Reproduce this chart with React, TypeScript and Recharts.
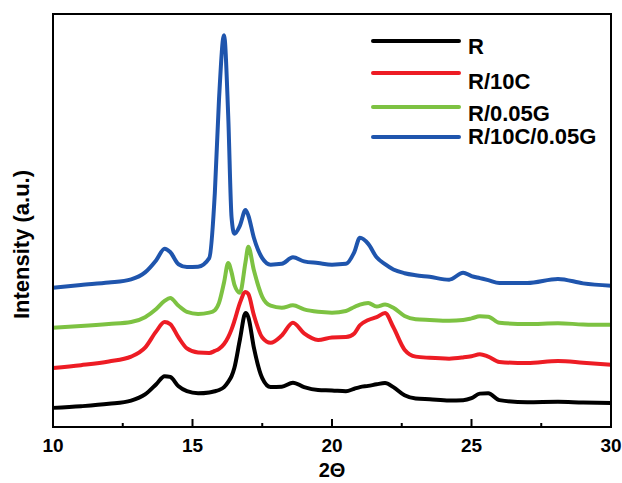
import { Legend, Line, LineChart, XAxis, YAxis } from 'recharts';

const twoTheta = [
  10, 11, 12, 12.8, 13.3, 13.7, 14.0, 14.2, 14.5, 14.8, 15.2, 15.6, 15.8, 15.95, 16.13, 16.28, 16.4,
  16.5, 16.7, 16.9, 17.0, 17.2, 17.5, 17.8, 18.2, 18.6, 19.0, 19.5, 20.0, 20.5, 20.8, 21.0, 21.3,
  21.6, 21.9, 22.2, 22.6, 23.0, 23.5, 24.2, 24.7, 25.0, 25.3, 25.6, 26.0, 27.0, 28.1, 29.0, 30.0,
];

const intensityR = [
  3.2, 3.6, 4.2, 5.0, 6.5, 9.0, 11.0, 10.8, 8.5, 7.3, 6.8, 7.0, 7.3, 7.6, 8.3, 9.6, 11.0,
  13.0, 20.0, 26.5, 25.5, 18.0, 10.5, 8.3, 8.4, 9.4, 8.3, 7.6, 7.5, 7.3, 7.9, 8.3, 8.6,
  9.0, 9.3, 8.3, 6.3, 5.5, 5.3, 5.0, 5.1, 5.6, 6.7, 6.8, 5.1, 4.6, 4.7, 4.5, 4.4,
];

const intensityR10C = [
  13.0, 13.7, 14.6, 15.8, 18.0, 22.0, 24.3, 23.8, 20.5, 17.8, 16.8, 16.7, 17.2, 17.7, 18.9, 20.6, 22.5,
  24.5, 29.0, 31.7, 31.2, 26.0, 20.5, 19.2, 21.0, 24.1, 21.5, 19.9, 20.5, 20.6, 21.5, 23.5, 24.8,
  25.5, 26.5, 23.0, 17.5, 15.8, 15.5, 15.3, 15.6, 15.9, 16.4, 15.8, 14.5, 14.2, 14.7, 14.3, 13.8,
];

const intensityR005G = [
  22.9, 23.3, 23.8, 24.3, 25.5, 27.5, 29.5, 30.2, 28.3, 26.8, 26.3, 26.6, 27.2, 29.0, 34.0, 38.8, 36.5,
  33.5, 31.5, 39.0, 42.8, 37.0, 30.5, 28.3, 27.8, 28.4, 27.4, 26.8, 26.6, 27.0, 28.0, 28.6, 29.0,
  28.1, 28.6, 27.8, 25.8, 25.0, 24.8, 24.6, 24.8, 25.2, 25.7, 25.6, 24.1, 23.8, 24.0, 23.7, 23.6,
];

const intensityR10C005G = [
  32.7, 33.4, 34.0, 34.8, 36.5, 39.5, 42.3, 41.5, 38.5, 37.8, 37.9, 40.0, 56.0, 79.0, 94.8, 75.0, 50.0,
  46.0, 48.0, 51.8, 50.5, 45.0, 40.0, 38.4, 38.6, 40.2, 39.2, 38.8, 38.4, 38.6, 41.5, 45.0, 43.5,
  40.2, 38.5, 37.2, 36.3, 35.8, 35.4, 34.7, 36.4, 35.6, 35.1, 34.6, 33.9, 33.9, 34.9, 33.8, 33.2,
];

const xTicks = [10, 12.5, 15, 17.5, 20, 22.5, 25, 27.5, 30];

const seriesNames = ['R', 'R/10C', 'R/0.05G', 'R/10C/0.05G'];
const seriesColors = ['#000000', '#ed1c24', '#7dc242', '#1f55ad'];

const FONT = '"Liberation Sans", Arial, Helvetica, sans-serif';

const data = twoTheta.map((x, i) => ({
  x,
  R: intensityR[i],
  'R/10C': intensityR10C[i],
  'R/0.05G': intensityR005G[i],
  'R/10C/0.05G': intensityR10C005G[i],
}));

function BottomTick(props: any) {
  const { x, y, payload } = props;
  const major = payload.value % 5 === 0;
  return (
    <g>
      <line x1={x} x2={x} y1={y} y2={y - (major ? 8 : 4)} stroke="#000" strokeWidth={2} />
      {major && (
        <text x={x} y={y + 25} textAnchor="middle" fontFamily={FONT} fontWeight="bold" fontSize={19} fill="#000">
          {payload.value}
        </text>
      )}
    </g>
  );
}

function LegendBox() {
  const lineY = [21, 53, 87, 117];
  const textY = [34, 69, 101, 124];
  return (
    <svg width={250} height={135}>
      {seriesNames.map((name, i) => (
        <g key={name}>
          <line x1={13} x2={99} y1={lineY[i]} y2={lineY[i]} stroke={seriesColors[i]} strokeWidth={4} strokeLinecap="round" />
          <text x={108} y={textY[i]} fontFamily={FONT} fontWeight="bold" fontSize={22} fill="#000">
            {name}
          </text>
        </g>
      ))}
    </svg>
  );
}

export default function App() {
  const drawOrder = [3, 2, 1, 0];
  return (
    <div style={{ position: 'absolute', left: 0, top: 0, width: 622, height: 483, background: '#fff' }}>
      <LineChart width={622} height={483} data={data} margin={{ top: 10, right: 7, bottom: 0, left: 0 }}>
        <XAxis
          dataKey="x"
          type="number"
          domain={[10, 30]}
          ticks={xTicks}
          interval={0}
          height={56}
          tickSize={0}
          tickMargin={0}
          tickLine={false}
          axisLine={{ stroke: '#000', strokeWidth: 2 }}
          tick={<BottomTick />}
          label={(p: any) => {
            const vb = p.viewBox;
            return (
              <text x={vb.x + vb.width / 2} y={vb.y + 50} textAnchor="middle" fontFamily={FONT} fontWeight="bold" fontSize={20} fill="#000">
                2Θ
              </text>
            );
          }}
        />
        <XAxis
          xAxisId="top"
          orientation="top"
          dataKey="x"
          type="number"
          domain={[10, 30]}
          height={4}
          tick={false}
          axisLine={{ stroke: '#000', strokeWidth: 2 }}
        />
        <YAxis
          type="number"
          domain={[-1.5, 100]}
          width={53}
          tick={false}
          tickLine={false}
          axisLine={{ stroke: '#000', strokeWidth: 2 }}
          label={(p: any) => {
            const vb = p.viewBox;
            const cx = vb.x + 29;
            const cy = vb.y + vb.height / 2 + 24;
            return (
              <text x={cx} y={cy} transform={`rotate(-90, ${cx}, ${cy})`} textAnchor="middle" fontFamily={FONT} fontWeight="bold" fontSize={22} fill="#000">
                Intensity (a.u.)
              </text>
            );
          }}
        />
        <YAxis
          yAxisId="right"
          orientation="right"
          type="number"
          domain={[-1.5, 100]}
          width={4}
          tick={false}
          axisLine={{ stroke: '#000', strokeWidth: 2 }}
        />
        <Legend
          layout="vertical"
          align="center"
          verticalAlign="middle"
          content={<LegendBox />}
          wrapperStyle={{ position: 'absolute', left: 360, top: 20, width: 250, height: 135 }}
        />
        {drawOrder.map((i) => (
          <Line
            key={seriesNames[i]}
            type="monotone"
            dataKey={seriesNames[i]}
            xAxisId={i === 3 ? 'top' : 0}
            yAxisId={i === 3 ? 'right' : 0}
            stroke={seriesColors[i]}
            strokeWidth={4}
            dot={false}
            activeDot={false}
            isAnimationActive={false}
          />
        ))}
      </LineChart>
      {/* frame backup for the top and right edges */}
      <div
        style={{
          position: 'absolute',
          left: 52,
          top: 13,
          width: 556,
          height: 411,
          border: '2px solid #000',
          pointerEvents: 'none',
        }}
      />
    </div>
  );
}
